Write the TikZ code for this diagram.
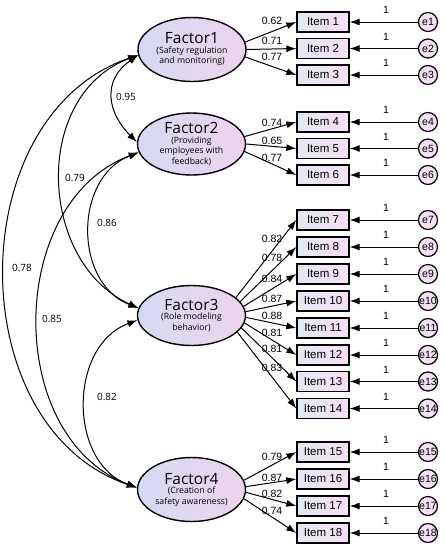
\documentclass[tikz,border=0pt]{standalone}
\usepackage{fontspec}
\setmainfont{Liberation Sans}
\newfontfamily\facfont{Open Sans}
\usetikzlibrary{shapes.geometric,arrows.meta}
\definecolor{elL}{RGB}{212,218,242}
\definecolor{elR}{RGB}{238,212,236}
\definecolor{bxL}{RGB}{226,233,243}
\definecolor{bxR}{RGB}{248,222,245}
\definecolor{ecF}{RGB}{243,224,245}
\begin{document}
\begin{tikzpicture}[x=1pt,y=-1pt,
  factor/.style={ellipse, draw, line width=1.4pt, minimum width=108pt, inner xsep=-3pt, inner ysep=0pt,
    left color=elL, right color=elR, align=center, font=\facfont\fontsize{8.7}{10.5}\selectfont},
  itembox/.style={draw, line width=1.3pt, minimum width=52pt, minimum height=20pt, inner sep=0pt,
    left color=bxL, right color=bxR, font=\fontsize{11.5}{13}\selectfont},
  err/.style={circle, draw, line width=1.2pt, minimum size=19pt, inner sep=0pt, fill=ecF,
    font=\fontsize{10.5}{12}\selectfont},
  arr/.style={-{Latex[length=10pt,width=7pt]}, line width=1pt},
  cov/.style={{Latex[length=10pt,width=7pt]}-{Latex[length=10pt,width=7pt]}, line width=1pt},
  lab/.style={font=\fontsize{10.5}{12}\selectfont, inner sep=0pt},
  clab/.style={font=\facfont\fontsize{10}{11}\selectfont, inner sep=0pt}
]
\fill[white] (0,0) rectangle (445,550);
\useasboundingbox (0,0) rectangle (445,550);

% factors
\node[factor, minimum height=64pt] (F1) at (192,49.5)
  {{\fontsize{15.5}{17}\selectfont Factor1}\\[-1pt](Safety regulation\\and monitoring)};
\node[factor, minimum height=62pt] (F2) at (191.5,144)
  {{\fontsize{15.5}{17}\selectfont Factor2}\\[-1pt](Providing\\employees with\\feedback)};
\node[factor, minimum height=60pt] (F3) at (191.5,315.5)
  {{\fontsize{15.5}{17}\selectfont Factor3}\\[-1pt](Role modeling\\behavior)};
\node[factor, minimum height=64pt] (F4) at (191.5,489.5)
  {{\fontsize{15.5}{17}\selectfont Factor4}\\[-1pt](Creation of\\safety awareness)};

% items and errors
\foreach \i/\y in {1/22,2/48.5,3/75,4/122,5/148.5,6/175,7/220,8/247,9/274,10/301,11/328,12/355,13/381.5,14/408.5,15/452,16/479,17/506,18/533}{
  \node[itembox] (I\i) at (323,\y) {Item \i};
  \node[err] (e\i) at (428,\y) {e\i};
  \draw[arr] (e\i) -- (I\i);
  \node[lab] (one\i) at (386,\y-12) {1};
}

% loadings
\foreach \i/\a/\v/\ly in {1/8/0.62/21,2/0/0.71/41,3/-8/0.77/57}{
  \draw[arr] (F1.\a) -- (I\i.west);
  \node[lab] (L\i) at (272,\ly) {\v};
}
\foreach \i/\a/\v/\ly in {4/8/0.74/123,5/0/0.65/141,6/-8/0.77/158}{
  \draw[arr] (F2.\a) -- (I\i.west);
  \node[lab] (L\i) at (272,\ly) {\v};
}
\foreach \i/\a/\v/\ly in {7/22/0.82/239,8/16/0.78/258,9/10/0.84/279,10/4/0.87/299,11/-2/0.88/316,12/-8/0.81/333,13/-14/0.81/349,14/-20/0.83/368}{
  \draw[arr] (F3.\a) -- (I\i.west);
  \node[lab] (L\i) at (272,\ly) {\v};
}
\foreach \i/\a/\v/\ly in {15/10/0.79/457,16/3/0.87/478,17/-3/0.82/494,18/-10/0.74/511}{
  \draw[arr] (F4.\a) -- (I\i.west);
  \node[lab] (L\i) at (272,\ly) {\v};
}

% covariances
\draw[cov] (F1.186) .. controls +(-36,25) and +(-30,-30) .. (F2.178);
\draw[cov] (F1.186) .. controls +(-107,40) and +(-100,-45) .. (F3.172);
\draw[cov] (F1.186) .. controls +(-177,60) and +(-177,-60) .. (F4.178);
\draw[cov] (F2.189) .. controls +(-65,25) and +(-65,-25) .. (F3.172);
\draw[cov] (F2.189) .. controls +(-133,50) and +(-133,-50) .. (F4.178);
\draw[cov] (F3.185) .. controls +(-69,25) and +(-69,-25) .. (F4.178);

\node[clab] (c12) at (126,97) {0.95};
\node[clab] (c13) at (75,178) {0.79};
\node[clab] (c23) at (107,223) {0.86};
\node[clab] (c14) at (22,268) {0.78};
\node[clab] (c24) at (52,319) {0.85};
\node[clab] (c34) at (107,397) {0.82};
\end{tikzpicture}
\end{document}
